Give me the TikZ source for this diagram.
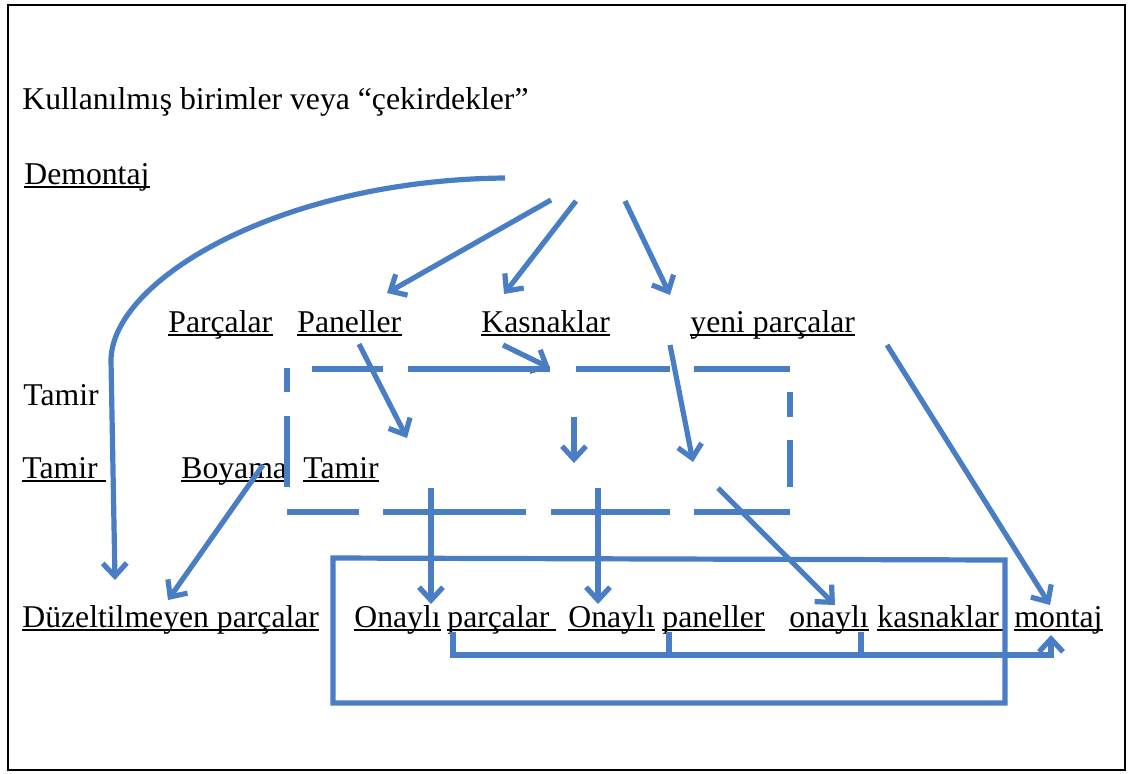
\documentclass[tikz,border=0pt]{standalone}
\usepackage{fontspec}
\setmainfont{Liberation Serif}
\usetikzlibrary{arrows.meta}
\definecolor{flowblue}{RGB}{74,126,196}
\tikzset{
 flow/.style={draw=flowblue,line width=2.6pt,-{Straight Barb[length=6.5pt,width=12pt]}},
 bar/.style={draw=flowblue,line width=2.6pt},
 lbl/.style={anchor=base west,inner sep=0pt,font=\fontsize{15.85pt}{19pt}\selectfont},
 uline/.style={black,line width=0.9pt}
}
\begin{document}
\begin{tikzpicture}[x=0.5pt,y=-0.5pt]
 \useasboundingbox (0,0) rectangle (1128,773);
 \draw[line width=0.9pt] (8,5) rectangle (1125,770);
 \node[lbl] (title) at (22,109) {Kullanılmış birimler veya “çekirdekler”};
 \node[lbl] (dem) at (24,184) {Demontaj};
 \node[lbl] (parca) at (168,332) {Parçalar};
 \node[lbl] (panel) at (297,332) {Paneller};
 \node[lbl] (kasnak) at (481,332) {Kasnaklar};
 \node[lbl] (yeni) at (690,332) {yeni parçalar};
 \node[lbl] (tamirA) at (23,405) {Tamir};
 \node[lbl] (tamirB) at (22,478) {Tamir};
 \node[lbl] (boya) at (181,478) {Boyama};
 \node[lbl] (tamirC) at (303,478) {Tamir};
 \node[lbl] (duz) at (22,627) {Düzeltilmeyen parçalar};
 \node[lbl] (onay1) at (354,627) {Onaylı};
 \node[lbl] (parca2) at (447,627) {parçalar};
 \node[lbl] (onay2) at (568,627) {Onaylı};
 \node[lbl] (panel2) at (662,627) {paneller};
 \node[lbl] (onay3) at (789,627) {onaylı};
 \node[lbl] (kasnak2) at (877,627) {kasnaklar};
 \node[lbl] (montaj) at (1014,627) {montaj};
 \foreach \n/\e in {dem/0,parca/0,panel/0,kasnak/0,yeni/0,tamirB/8,boya/0,tamirC/0,duz/0,
   onay1/0,parca2/6,onay2/0,panel2/0,onay3/0,kasnak2/7,montaj/0}
   \draw[uline] ([yshift=-1.5pt]\n.base west) -- ([yshift=-1.5pt]\n.base east) -- ++(\e,0);
 \coordinate (s0) at (505,178);
 \coordinate (s1) at (551,200);
 \coordinate (s2) at (576,201);
 \coordinate (s3) at (625,201);
 \coordinate (bend) at (111,360);
 \coordinate (duzA) at (115,580);
 \coordinate (duzB) at (168,600);
 \coordinate (panA) at (387,293);
 \coordinate (kasA) at (504,294);
 \coordinate (yeniA) at (670,295);
 \coordinate (panB) at (359,344);
 \coordinate (panC) at (407,438);
 \coordinate (kasB) at (503,345);
 \coordinate (kasC) at (550,368);
 \coordinate (midA) at (574,417);
 \coordinate (midB) at (574,463);
 \coordinate (yeniB) at (670,345);
 \coordinate (yeniC) at (693,462);
 \coordinate (yeniD) at (887,345);
 \coordinate (montA) at (1050,605);
 \coordinate (boyA) at (263,465);
 \coordinate (outA) at (431,488);
 \coordinate (outB) at (598,488);
 \coordinate (outC) at (718,488);
 \coordinate (onA) at (431,604);
 \coordinate (onB) at (598,604);
 \coordinate (onC) at (835,605);
 \coordinate (brkL) at (453,632);
 \coordinate (brkR) at (1051,655);
 \coordinate (montB) at (1051,635);
 \draw[flow] (s0) .. controls (280,180) and (112,280) .. (bend) -- (duzA);
 \draw[flow] (s1) -- (panA);
 \draw[flow] (s2) -- (kasA);
 \draw[flow] (s3) -- (yeniA);
 \draw[flow] (panB) -- (panC);
 \draw[flow] (kasB) -- (kasC);
 \draw[flow] (midA) -- (midB);
 \draw[flow] (yeniB) -- (yeniC);
 \draw[flow] (yeniD) -- (montA);
 \draw[flow] (boyA) -- (duzB);
 \draw[flow] (outA) -- (onA);
 \draw[flow] (outB) -- (onB);
 \draw[flow] (outC) -- (onC);
 \foreach \a/\b in {312/383,408/550,576/670,694/790}
   \draw[bar] (\a,369) -- (\b,369);
 \foreach \a/\b in {287/359,383/526,551/670,694/790}
   \draw[bar] (\a,512) -- (\b,512);
 \foreach \a/\b in {368/392,416/487}
   \draw[bar] (287,\a) -- (287,\b);
 \foreach \a/\b in {392/417,440/487}
   \draw[bar] (790,\a) -- (790,\b);
 \draw[bar] (333,558) -- (1005,560) -- (1005,703) -- (333,703) -- cycle;
 \draw[flow] (brkL) |- (brkR) -- (montB);
 \draw[bar] (669,632) -- (669,655);
 \draw[bar] (861,632) -- (861,655);
\end{tikzpicture}
\end{document}
